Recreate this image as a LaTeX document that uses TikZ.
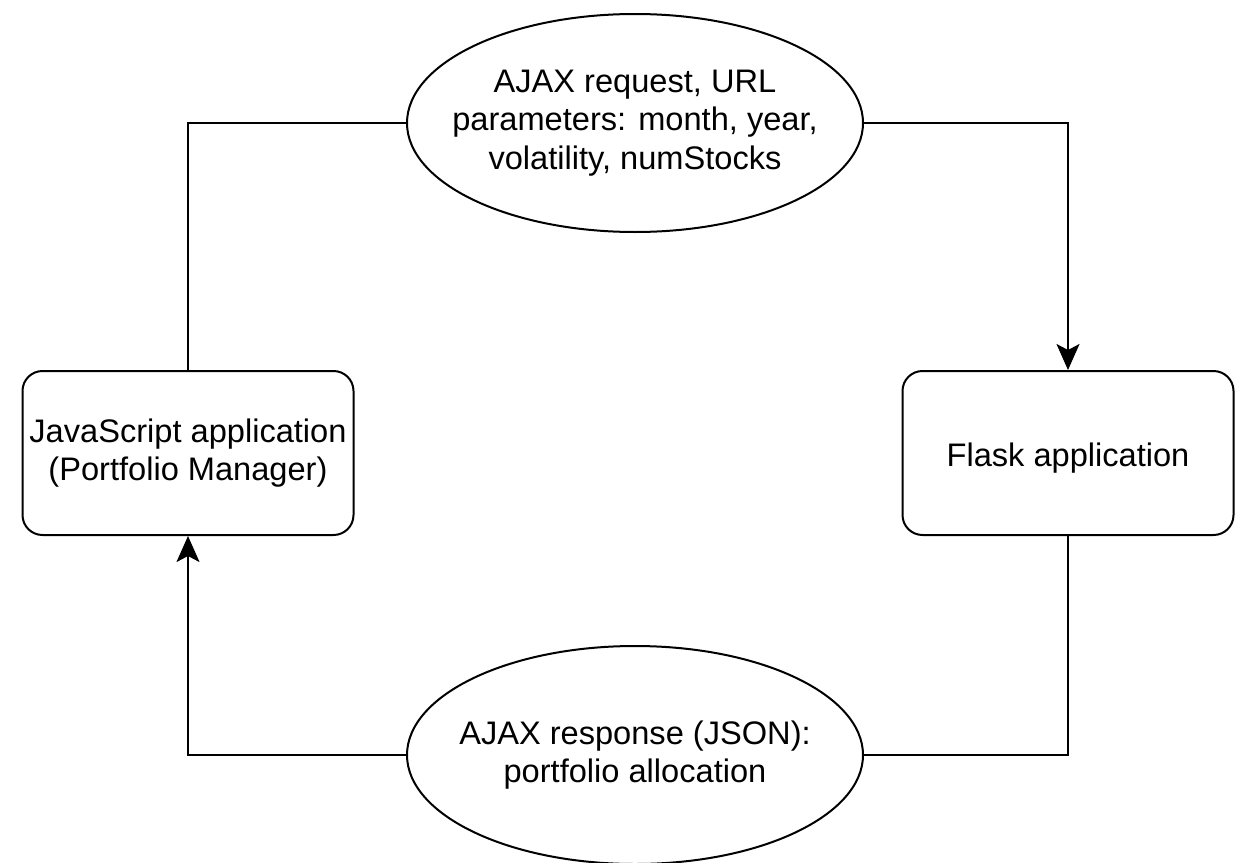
\documentclass[tikz,border=0pt]{standalone}
\usepackage{fontspec}
\setmainfont{Liberation Sans}
\usetikzlibrary{shapes.geometric,arrows.meta}
\tikzset{
    appbox/.style={draw,line width=1pt,rounded corners=10pt,minimum width=165.5pt,minimum height=82pt,align=center,inner sep=0pt},
    msgell/.style={draw,ellipse,line width=1pt,minimum width=228pt,minimum height=109pt,align=center,inner xsep=-30pt,inner ysep=0pt},
    link/.style={line width=1pt},
    flow/.style={line width=1pt,-{Stealth[length=13pt,width=11.5pt,inset=3pt]}}
}
\begin{document}
\begin{tikzpicture}[x=0.5pt,y=-0.5pt,font=\fontsize{16.3}{19.4}\selectfont]
    \clip (0,0) rectangle (1246,862);
    % components
    \node[appbox] (js) at (188,453) {JavaScript application\\(Portfolio Manager)};
    \node[appbox,text height=13pt,text depth=0pt] (flask) at (1068,453) {Flask application};
    % messages
    \node[msgell] (req) at (635,123) {AJAX request, URL\\parameters: month, year,\\volatility, numStocks};
    \node[msgell] (resp) at (635,755) {AJAX response (JSON):\\portfolio allocation};
    % connectors
    \draw[link] (req.west) -| (js.north);
    \draw[flow] (req.east) -| (flask.north);
    \draw[link] (flask.south) |- (resp.east);
    \draw[flow] (resp.west) -| (js.south);
\end{tikzpicture}
\end{document}
